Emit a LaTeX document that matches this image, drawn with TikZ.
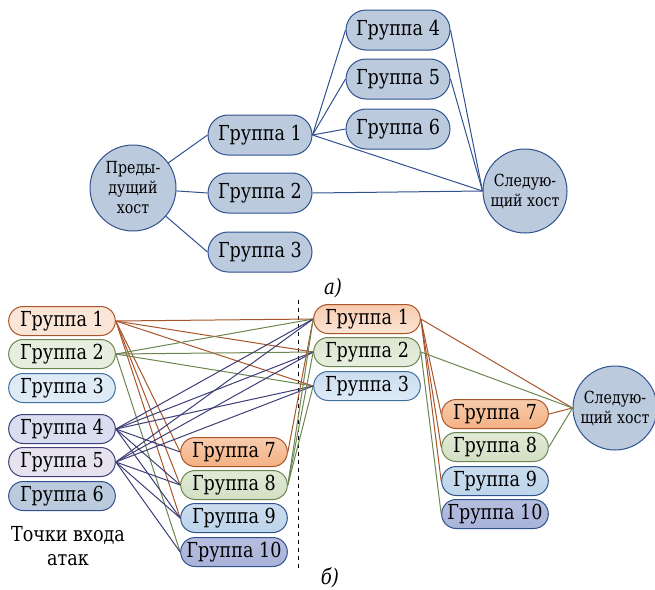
\documentclass[tikz,border=0pt]{standalone}
\usepackage{fontspec}
\setmainfont{DejaVu Serif}[FakeStretch=0.85]
\usetikzlibrary{shapes.misc}
\definecolor{hostfill}{HTML}{BCCADE}
\definecolor{hostline}{HTML}{2F528F}
\definecolor{brn}{HTML}{A8552A}
\definecolor{grn}{HTML}{6B8650}
\definecolor{prp}{HTML}{3E3E78}
\definecolor{blu}{HTML}{41719C}
\definecolor{orA}{HTML}{FBE5D6}
\definecolor{orB}{HTML}{F4B183}
\definecolor{orC}{HTML}{F8CBAD}
\definecolor{gnA}{HTML}{E8EEDF}
\definecolor{gnB}{HTML}{D3E0C4}
\definecolor{blA}{HTML}{DEEBF7}
\definecolor{blB}{HTML}{BDD4EA}
\definecolor{pbA}{HTML}{D8DDEF}
\definecolor{pbB}{HTML}{A9B3D9}
\definecolor{vlA}{HTML}{E6E2EE}

\begin{document}
\begin{tikzpicture}[x=0.75pt,y=-0.75pt,line width=0.75pt,
  grp/.style={rounded rectangle,inner sep=0pt,minimum height=21.75pt,minimum width=80pt,
    font=\fontsize{15.5}{17}\selectfont},
  bx/.style 2 args={grp,draw=#1,fill=#2},
  sbx/.style n args={3}{grp,draw=#1,top color=#2,bottom color=#3},
  topbx/.style={grp,draw=hostline,fill=hostfill,minimum height=30pt,minimum width=78pt},
  host/.style={circle,draw=hostline,fill=hostfill,inner sep=0pt,align=center,
    font=\fontsize{12.5}{15}\selectfont},
  sublabel/.style={font=\fontsize{16}{18}\selectfont\itshape}]
\useasboundingbox (0,0) rectangle (655,589);
% a)
\node[host,minimum size=64.5pt] (ph) at (133,188) {Преды-\\дущий\\хост};
\node[topbx] (a1) at (260,135) {Группа 1};
\node[topbx] (a2) at (260,193) {Группа 2};
\node[topbx] (a3) at (260,252) {Группа 3};
\node[topbx] (a4) at (398,30) {Группа 4};
\node[topbx] (a5) at (398,79) {Группа 5};
\node[topbx] (a6) at (398,129) {Группа 6};
\node[host,minimum size=63pt] (nh) at (525,191) {Следую-\\щий хост};
\node[sublabel] (capa) at (333,288) {а)};
\foreach \t in {a1,a2,a3} \draw[hostline] (ph) -- (\t.west);
\foreach \t in {a4,a5,a6} \draw[hostline] (a1.east) -- (\t.west);
\foreach \s in {a1,a2} \draw[hostline] (\s.east) -- (nh.west);
\foreach \s in {a4,a5} \draw[hostline] (\s.east) -- (nh.west);
% b)
\node[bx={brn}{orA}] (l1) at (62,321) {Группа 1};
\node[bx={grn}{gnA}] (l2) at (62,354) {Группа 2};
\node[bx={blu}{blA}] (l3) at (62,388) {Группа 3};
\node[bx={prp}{pbA}] (l4) at (62,429) {Группа 4};
\node[bx={prp}{vlA}] (l5) at (62,462) {Группа 5};
\node[bx={hostline}{hostfill}] (l6) at (62,496) {Группа 6};
\node[align=center,font=\fontsize{15.5}{18}\selectfont] (entry) at (68,546) {Точки входа\\атак};
\node[sbx={brn}{orC}{orB}] (m7) at (234,452) {Группа 7};
\node[sbx={grn}{gnB!70!white}{gnB}] (m8) at (234,485) {Группа 8};
\node[sbx={hostline}{blB!80!white}{blB}] (m9) at (234,518) {Группа 9};
\node[sbx={hostline}{pbB!85!white}{pbB}] (m10) at (234,552) {Группа 10};
\node[sbx={brn}{orC}{orA}] (r1) at (367,319) {Группа 1};
\node[sbx={grn}{gnB!80!white}{gnA}] (r2) at (367,352) {Группа 2};
\node[sbx={blu}{blB!80!white}{blA}] (r3) at (367,386) {Группа 3};
\node[sbx={brn}{orC}{orB}] (n7) at (495,414) {Группа 7};
\node[sbx={grn}{gnB!70!white}{gnB}] (n8) at (495,447) {Группа 8};
\node[sbx={hostline}{blB!80!white}{blB}] (n9) at (495,481) {Группа 9};
\node[sbx={hostline}{pbB!85!white}{pbB}] (n10) at (495,514) {Группа 10};
\node[host,minimum size=63pt] (nh2) at (615,408) {Следую-\\щий хост};
\node[sublabel] (capb) at (330,578) {б)};
\coordinate (cut1) at (298,300);
\coordinate (cut2) at (298,568);
\draw[dashed] (cut1) -- (cut2);
\foreach \t in {r1,r2,r3,m7,m8,m9} \draw[brn] (l1.east) -- (\t.west);
\foreach \t in {r1,r2,r3,m10} \draw[grn] (l2.east) -- (\t.west);
\foreach \t in {r1,r2,r3,m7,m8,m9} \draw[prp] (l4.east) -- (\t.west);
\foreach \t in {r1,r2,r3,m8,m9,m10} \draw[prp] (l5.east) -- (\t.west);
\draw[brn] (m7.east) -- (r1.west);
\foreach \t in {r1,r2,r3} \draw[grn] (m8.east) -- (\t.west);
\foreach \t in {n7,n8,n9,nh2} \draw[brn] (r1.east) -- (\t.west);
\foreach \t in {n10,nh2} \draw[grn] (r2.east) -- (\t.west);
\draw[brn] (n7.east) -- (nh2.west);
\draw[grn] (n8.east) -- (nh2.west);
\end{tikzpicture}
\end{document}
